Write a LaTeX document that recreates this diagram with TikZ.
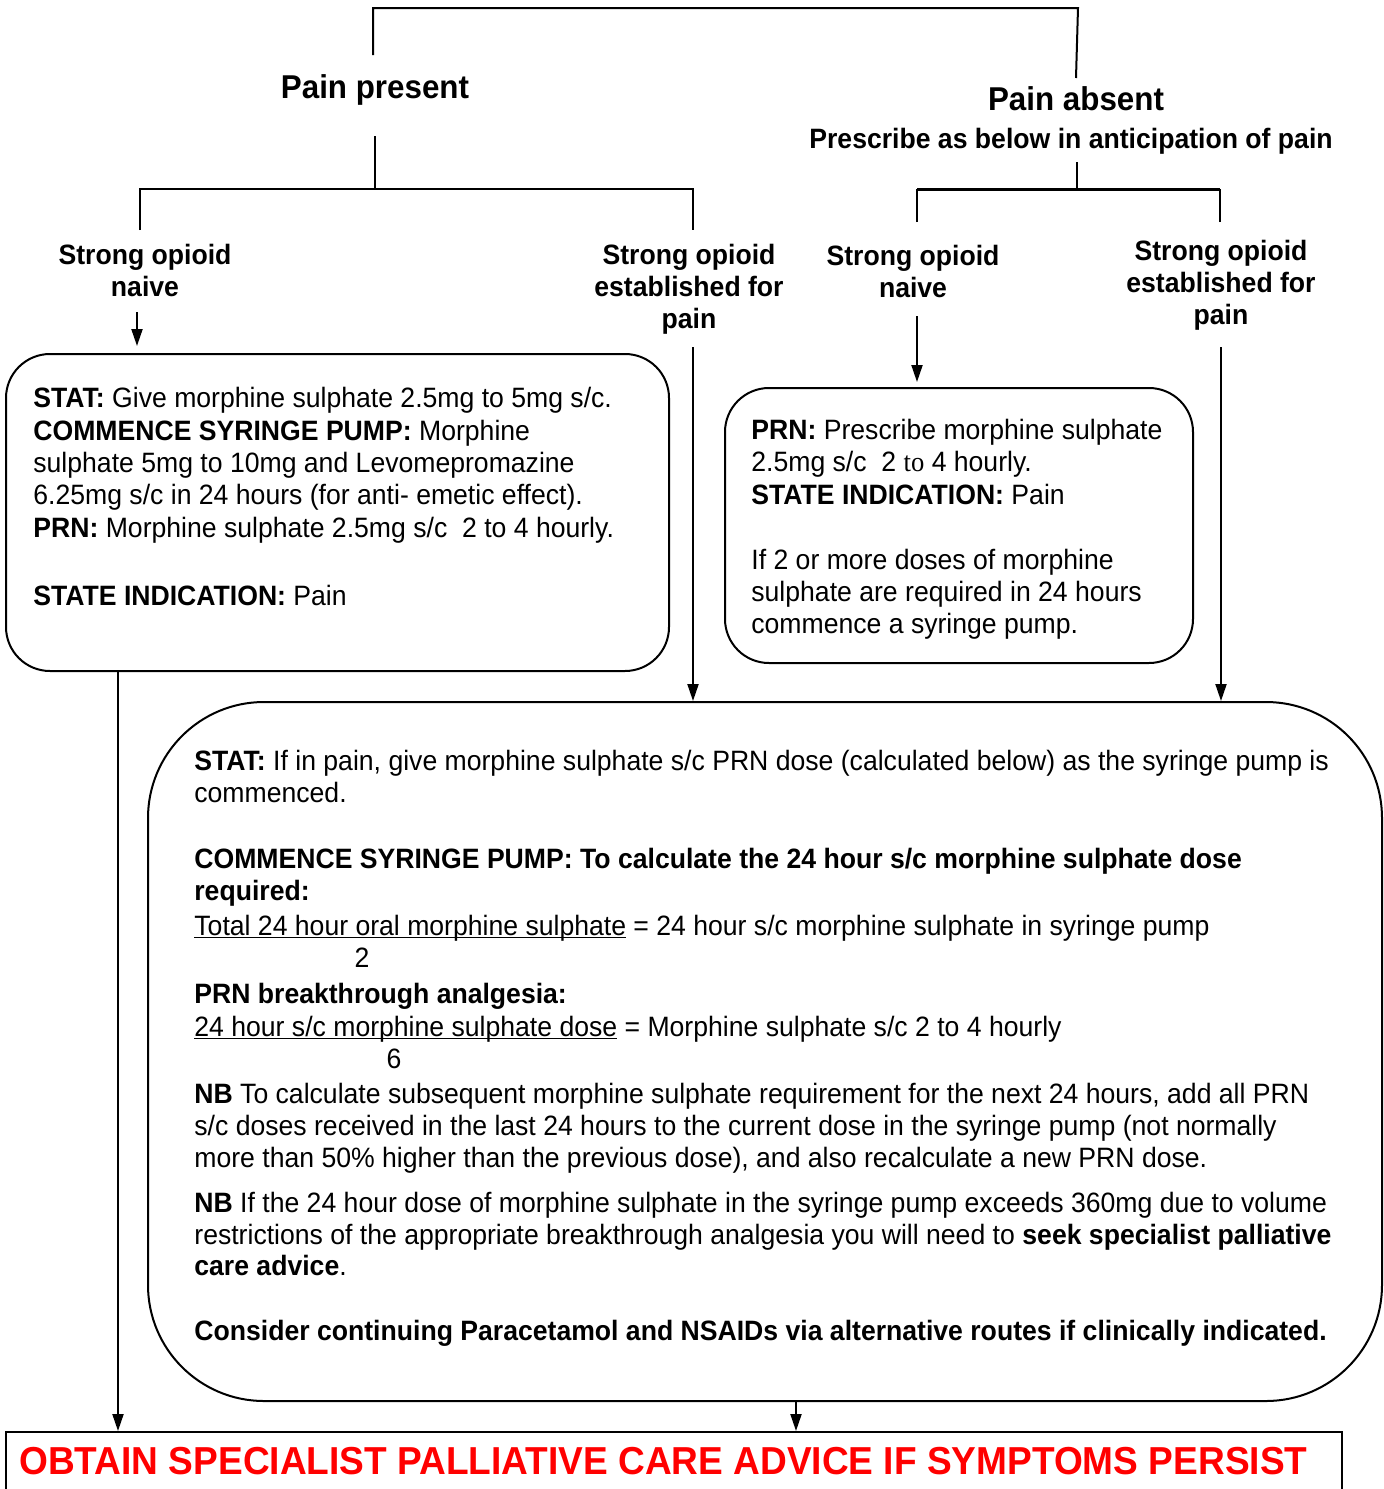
\documentclass[tikz,border=0pt]{standalone}
\usepackage{fontspec}
\setmainfont{Liberation Sans}[FakeStretch=0.95]
\newfontfamily\seriffont{Liberation Serif}[FakeStretch=0.95]
\usetikzlibrary{arrows.meta}
\newcommand\myul[1]{\setbox0\hbox{#1}\rlap{\rule[-1.6pt]{\wd0}{0.7pt}}\box0\relax}
\begin{document}
\begin{tikzpicture}[x=0.5pt,y=-0.5pt,
 txt/.style={anchor=base west, inner sep=0pt, font=\fontsize{14}{16}\selectfont},
 lbl/.style={anchor=base, inner sep=0pt, font=\bfseries\fontsize{14}{16}\selectfont},
 hd/.style={anchor=base, inner sep=0pt, font=\bfseries\fontsize{16.5}{19}\selectfont},
 ln/.style={line width=1pt},
 arr/.style={line width=1pt, -{Triangle[width=5.5pt,length=8.5pt]}},
 rbox/.style={draw, line width=1pt, rectangle, inner sep=0pt},
]
\useasboundingbox (0,0) rectangle (1384,1489);
\clip (0,0) rectangle (1384,1489);

% boxes
\node[rbox, rounded corners=22pt, minimum width=331.5pt, minimum height=158.5pt] (lbox) at (337.5,512.5) {};
\node[rbox, rounded corners=22pt, minimum width=234pt, minimum height=137.5pt] (rbx) at (959,525.5) {};
\node[rbox, rounded corners=58pt, minimum width=617pt, minimum height=349.5pt] (mbox) at (765,1051.5) {};
\node[rbox, minimum width=668pt, minimum height=44pt] (adv) at (674,1476) {};

% headings
\node[hd] (pp) at (375,98) {Pain present};
\node[hd] (pa) at (1076,110) {Pain absent};
\node[lbl] (pb) at (1071,148) {Prescribe as below in anticipation of pain};

% labels
\node[lbl] (n1a) at (145,264) {Strong opioid};
\node[lbl] (n1b) at (145,296) {naive};
\node[lbl] (e1a) at (689,264) {Strong opioid};
\node[lbl] (e1b) at (689,296) {established for};
\node[lbl] (e1c) at (689,328) {pain};
\node[lbl] (n2a) at (913,265) {Strong opioid};
\node[lbl] (n2b) at (913,297) {naive};
\node[lbl] (e2a) at (1221,260) {Strong opioid};
\node[lbl] (e2b) at (1221,292) {established for};
\node[lbl] (e2c) at (1221,324) {pain};

% tree lines
\coordinate (t1) at (373,55);
\coordinate (t2) at (373,8);
\coordinate (t3) at (1078,8);
\coordinate (t4) at (1076,78);
\draw[ln] (t1) -- (t2) -- (t3) -- (t4);
\coordinate (p1) at (375,136);
\coordinate (p2) at (375,189);
\coordinate (pl) at (140,189);
\coordinate (pr) at (693,189);
\coordinate (pld) at (140,230);
\coordinate (prd) at (693,230);
\draw[ln] (p1) -- (p2);
\draw[ln] (pld) -- (pl) -- (pr) -- (prd);
\coordinate (q1) at (1077,162);
\coordinate (q2) at (1077,189);
\coordinate (ql) at (917,189);
\coordinate (qr) at (1220,189);
\coordinate (qld) at (917,222);
\coordinate (qrd) at (1220,222);
\draw[ln] (q1) -- (q2);
\draw[ln] (qld) -- (ql);
\draw[ln] (qrd) -- (qr);
\draw[line width=1.5pt] (ql) -- (qr);

% arrows
\coordinate (a1) at (137,312);
\coordinate (a1e) at (137,346);
\draw[arr] (a1) -- (a1e);
\coordinate (a2) at (693,347);
\draw[arr] (a2) -- (a2 |- mbox.north);
\coordinate (a3) at (917,316);
\coordinate (a3e) at (917,382);
\draw[arr] (a3) -- (a3e);
\coordinate (a4) at (1221,347);
\draw[arr] (a4) -- (a4 |- mbox.north);
\coordinate (a5) at (118,671);
\draw[arr] (a5 |- lbox.south) -- (a5 |- adv.north);
\coordinate (a6) at (796,1401);
\draw[arr] (a6 |- mbox.south) -- (a6 |- adv.north);

% left box text
\node[txt] (l1) at (33,407) {\textbf{STAT:} Give morphine sulphate 2.5mg to 5mg s/c.};
\node[txt] (l2) at (33,440) {\textbf{COMMENCE SYRINGE PUMP:} Morphine};
\node[txt] (l3) at (33,472) {sulphate 5mg to 10mg and Levomepromazine};
\node[txt] (l4) at (33,504) {6.25mg s/c in 24 hours (for anti- emetic effect).};
\node[txt] (l5) at (33,537) {\textbf{PRN:} Morphine sulphate 2.5mg s/c\ \ 2 to 4 hourly.};
\node[txt] (l6) at (33,605) {\textbf{STATE INDICATION:} Pain};

% right box text
\node[txt] (r1) at (751,439) {\textbf{PRN:} Prescribe morphine sulphate};
\node[txt] (r2) at (751,471) {2.5mg s/c\ \ 2 {\seriffont to} 4 hourly.};
\node[txt] (r3) at (751,504) {\textbf{STATE INDICATION:} Pain};
\node[txt] (r4) at (751,569) {If 2 or more doses of morphine};
\node[txt] (r5) at (751,601) {sulphate are required in 24 hours};
\node[txt] (r6) at (751,633) {commence a syringe pump.};

% main box text
\node[txt] (m1) at (194,770) {\textbf{STAT:} If in pain, give morphine sulphate s/c PRN dose (calculated below) as the syringe pump is};
\node[txt] (m2) at (194,802) {commenced.};
\node[txt] (m3) at (194,868) {\textbf{COMMENCE SYRINGE PUMP: To calculate the 24 hour s/c morphine sulphate dose}};
\node[txt] (m4) at (194,900) {\textbf{required:}};
\node[txt] (m5) at (194,935) {\myul{Total 24 hour oral morphine sulphate} = 24 hour s/c morphine sulphate in syringe pump};
\node[txt, anchor=base] (m6) at (362,967) {2};
\node[txt] (m7) at (194,1003) {\textbf{PRN breakthrough analgesia:}};
\node[txt] (m8) at (194,1036) {\myul{24 hour s/c morphine sulphate dose} = Morphine sulphate s/c 2 to 4 hourly};
\node[txt, anchor=base] (m9) at (394,1068) {6};
\node[txt] (m10) at (194,1103) {\textbf{NB} To calculate subsequent morphine sulphate requirement for the next 24 hours, add all PRN};
\node[txt] (m11) at (194,1135) {s/c doses received in the last 24 hours to the current dose in the syringe pump (not normally};
\node[txt] (m12) at (194,1167) {more than 50\% higher than the previous dose), and also recalculate a new PRN dose.};
\node[txt] (m13) at (194,1212) {\textbf{NB} If the 24 hour dose of morphine sulphate in the syringe pump exceeds 360mg due to volume};
\node[txt] (m14) at (194,1244) {restrictions of the appropriate breakthrough analgesia you will need to \textbf{seek specialist palliative}};
\node[txt] (m15) at (194,1275) {\textbf{care advice}.};
\node[txt] (m16) at (194,1340) {\textbf{Consider continuing Paracetamol and NSAIDs via alternative routes if clinically indicated.}};

% bottom text
\node[anchor=base west, inner sep=0pt, text=red, font=\bfseries\fontsize{19.5}{22}\selectfont] (advt) at (19,1474) {OBTAIN SPECIALIST PALLIATIVE CARE ADVICE IF SYMPTOMS PERSIST};
\end{tikzpicture}
\end{document}
